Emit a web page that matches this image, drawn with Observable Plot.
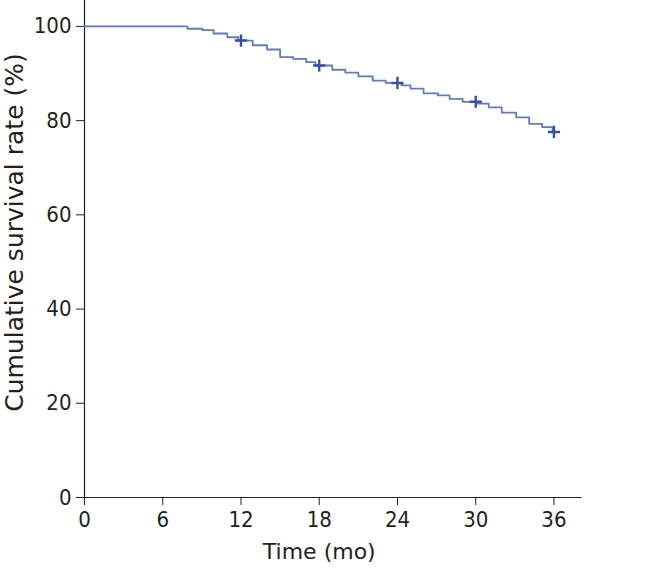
<!DOCTYPE html>
<html>
<head>
<meta charset="utf-8">
<script src="https://cdn.jsdelivr.net/npm/d3@7"></script>
<script src="https://cdn.jsdelivr.net/npm/@observablehq/plot@0.6"></script>
<style>
  html, body { margin: 0; padding: 0; background: #fff; }
  #chart svg { display: block; }
</style>
</head>
<body>
<div id="chart"></div>
<script>
// Kaplan-Meier step curve (time in months, cumulative survival %)
const times = [0, 7.9, 9.05, 9.9, 10.95, 11.8, 12.9, 14.0, 15.0, 16.0, 17.0, 17.7, 19.0, 20.0, 21.0, 22.1, 23.1, 24.3, 25.0, 26.0, 27.1, 28.0, 29.0, 30.1, 31.0, 32.0, 33.1, 34.1, 35.1, 35.9, 36];
const survival = [100, 99.5, 99.2, 98.5, 97.7, 97.0, 96.0, 95.1, 93.5, 93.1, 92.4, 91.7, 90.8, 90.2, 89.4, 88.5, 88.0, 87.5, 86.8, 85.8, 85.35, 84.6, 84.0, 83.6, 82.8, 81.7, 80.7, 79.3, 78.6, 77.6, 77.6];
// censoring marks
const censorTimes = [12, 18, 24, 30, 36];
const censorSurvival = [97.0, 91.7, 88.0, 84.0, 77.6];
// tick labels
const xTicks = [0, 6, 12, 18, 24, 30, 36];
const yTicks = [0, 20, 40, 60, 80, 100];
const xLabel = "Time (mo)";
const yLabel = "Cumulative survival rate (%)";

const curve = times.map((t, i) => ({t, s: survival[i]}));
const censors = censorTimes.map((t, i) => ({t, s: censorSurvival[i]}));

const font = "'DejaVu Sans Condensed', 'DejaVu Sans', sans-serif";
const labelFont = "'DejaVu Sans', sans-serif";

const plot = Plot.plot({
  width: 649,
  height: 586,
  marginLeft: 84,
  marginRight: 67.5,
  marginTop: 0,
  marginBottom: 89,
  style: {fontFamily: font, fontSize: "22px", color: "#231f20", background: "#fff"},
  x: {domain: [0, 38.15]},
  y: {domain: [0, 105.5]},
  marks: [
    Plot.axisX({ticks: xTicks, tickSize: 8, tickPadding: 6, label: null, stroke: "#231f20", fill: "#231f20"}),
    Plot.axisY({ticks: yTicks, tickSize: 8, tickPadding: 5, label: null, stroke: "#231f20", fill: "#231f20"}),
    Plot.ruleY([0], {stroke: "#231f20", strokeWidth: 1.2}),
    Plot.ruleX([0], {stroke: "#231f20", strokeWidth: 1.2}),
    Plot.line(curve, {x: "t", y: "s", curve: "step-after", stroke: "#6379c2", strokeWidth: 1.8}),
    Plot.dot(censors, {x: "t", y: "s", symbol: "plus", r: 4, stroke: "#3550a3", strokeWidth: 2.4}),
    Plot.text([xLabel], {x: 18, frameAnchor: "bottom", dy: 61, fontSize: 22, fontFamily: labelFont, fill: "#231f20"}),
    Plot.text([yLabel], {frameAnchor: "left", textAnchor: "middle", rotate: -90, dx: -70, dy: -16.5, fontSize: 25, fontFamily: labelFont, fill: "#231f20"})
  ]
});
document.getElementById("chart").appendChild(plot);
</script>
</body>
</html>
